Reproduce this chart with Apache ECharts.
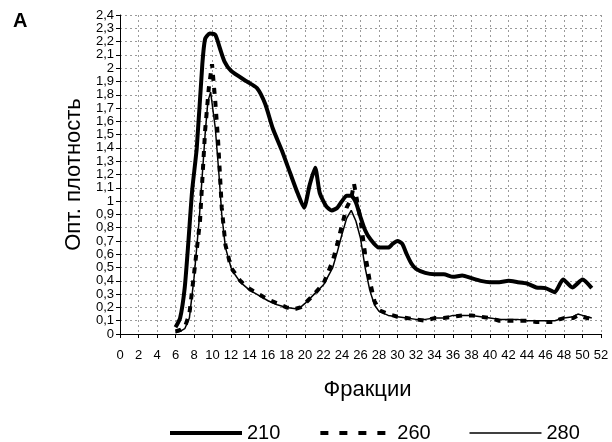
<!DOCTYPE html>
<html>
<head>
<meta charset="utf-8">
<script src="https://cdn.jsdelivr.net/npm/echarts@6/dist/echarts.min.js"></script>
<style>html,body{margin:0;padding:0;background:#fff}#c{width:612px;height:442px}</style>
</head>
<body>
<div id="c"></div>
<script>
var x210 = [6,6.5,7,7.4,7.8,8.3,8.9,9.2,9.7,10.3,10.8,11.3,12,13.7,14.8,15.7,16.5,17.5,18.4,19.2,19.9,20.5,21.1,21.6,22.3,22.9,23.5,24,24.5,25,25.5,26,26.5,27,28,29,29.5,30,30.5,31,31.5,32,33,34,35,36,37,38,39,40,41,42,43,44,45,46,47,47.9,48.9,50,51];
var y210 = [0.05,0.12,0.35,0.7,1.08,1.4,2.03,2.22,2.26,2.25,2.15,2.05,1.98,1.9,1.85,1.73,1.55,1.38,1.21,1.06,0.95,1.12,1.25,1.06,0.96,0.93,0.95,1.0,1.04,1.04,0.99,0.88,0.78,0.72,0.65,0.65,0.68,0.7,0.68,0.6,0.53,0.49,0.46,0.45,0.45,0.43,0.44,0.42,0.4,0.39,0.39,0.4,0.39,0.38,0.35,0.345,0.315,0.41,0.35,0.41,0.345];

var x260 = [6,6.5,7,7.5,8,8.65,9.2,9.6,9.95,10.3,10.6,11,11.4,12,12.5,13,14,15,16,17,18,19,19.5,20,21,22,23,23.5,24,24.5,25,25.3,26,26.5,27,27.5,28,29,30,31,32,33,34,35,36,37,38,39,40,41,42,43,44,45,46,47,47.5,48,49,49.5,50,51];
var y260 = [0.02,0.03,0.05,0.15,0.45,0.85,1.53,1.85,2.03,1.75,1.46,0.95,0.67,0.5,0.45,0.4,0.34,0.3,0.26,0.23,0.2,0.19,0.2,0.23,0.3,0.38,0.55,0.68,0.82,0.95,1.02,1.13,0.86,0.6,0.4,0.25,0.18,0.15,0.13,0.12,0.11,0.1,0.12,0.12,0.13,0.14,0.14,0.13,0.12,0.1,0.1,0.1,0.1,0.09,0.09,0.09,0.11,0.12,0.12,0.14,0.13,0.11];

var x280 = [6,6.5,7,7.5,8,8.55,9.2,9.5,9.8,10.3,10.7,11,11.4,12,12.5,13,14,15,16,17,18,19,19.5,20,21,22,23,23.5,24,24.5,25,25.5,26,26.5,27,27.5,28,29,30,31,32,33,34,35,36,37,38,39,40,41,42,43,44,45,46,47,48,49,49.5,50,51];
var y280 = [0.01,0.02,0.04,0.12,0.42,0.85,1.5,1.75,1.82,1.55,1.2,0.9,0.65,0.5,0.44,0.39,0.33,0.29,0.25,0.22,0.2,0.19,0.2,0.23,0.3,0.37,0.5,0.62,0.75,0.87,0.93,0.85,0.72,0.5,0.33,0.22,0.17,0.14,0.13,0.12,0.11,0.11,0.12,0.12,0.14,0.14,0.14,0.13,0.12,0.11,0.11,0.11,0.1,0.1,0.1,0.1,0.12,0.13,0.15,0.14,0.12];

var seriesNames = ['210','260','280'];
var panelLabel = 'A';
var xTitle = 'Фракции';
var yTitle = 'Опт. плотность';

function pairs(xs, ys){ return xs.map(function(x,i){ return [x, ys[i]]; }); }

var FONT = '"Liberation Sans", Arial, sans-serif';
var chart = echarts.init(document.getElementById('c'), null, {renderer:'canvas'});
chart.setOption({
  animation: false,
  backgroundColor: '#fff',
  textStyle: {fontFamily: FONT, color: '#000'},
  title: {text: panelLabel, left: 8, top: 6, textStyle: {fontFamily: FONT, fontSize: 20, fontWeight: 'bold', color: '#000'}},
  grid: {left: 120, right: 11, top: 15, bottom: 108, containLabel: false},
  legend: {
    top: 423, left: 168, itemWidth: 72, itemHeight: 16, itemGap: 38, padding: 0,
    itemStyle: {opacity: 0},
    textStyle: {fontFamily: FONT, fontSize: 20, color: '#000'},
    data: [
      {name: seriesNames[0], lineStyle: {width: 4, type: 'solid'}},
      {name: seriesNames[1], lineStyle: {type: [8,11], width: 4}},
      {name: seriesNames[2], lineStyle: {width: 1.5, type: 'solid'}}
    ]
  },
  xAxis: {
    type: 'value', min: 0, max: 52, interval: 2,
    name: xTitle, nameLocation: 'middle', nameGap: 45,
    nameTextStyle: {fontFamily: FONT, fontSize: 22, color: '#000', padding: [0,0,0,14]},
    axisLine: {lineStyle: {color: '#000', width: 1}},
    axisTick: {show: true, length: 4, lineStyle: {color: '#000'}},
    axisLabel: {fontFamily: FONT, fontSize: 13, color: '#000', margin: 15, showMaxLabel: true, showMinLabel: true},
    splitLine: {show: true, lineStyle: {type: [2,3], color: '#9a9a9a', width: 1}}
  },
  yAxis: {
    type: 'value', min: 0, max: 2.4, interval: 0.1,
    name: yTitle, nameLocation: 'middle', nameGap: 33,
    nameTextStyle: {fontFamily: FONT, fontSize: 22, color: '#000'},
    axisLine: {show: true, lineStyle: {color: '#000', width: 1}},
    axisTick: {show: true, length: 4, lineStyle: {color: '#000'}},
    axisLabel: {fontFamily: FONT, fontSize: 13, color: '#000', margin: 6,
      formatter: function(v){ var s = (Math.round(v*10)/10).toString(); return s.replace('.', ','); }},
    splitLine: {show: true, lineStyle: {type: [2,3], color: '#9a9a9a', width: 1}}
  },
  series: [
    {name: seriesNames[0], type: 'line', data: pairs(x210, y210), symbol: 'none', z: 2, smooth: 0.2,
     lineStyle: {color: '#000', width: 4}, itemStyle: {color: '#000'}},
    {name: seriesNames[1], type: 'line', data: pairs(x260, y260), symbol: 'none', z: 3,
     lineStyle: {color: '#000', width: 4, type: [6,7]}, itemStyle: {color: '#000'}},
    {name: seriesNames[2], type: 'line', data: pairs(x280, y280), symbol: 'none', z: 4,
     lineStyle: {color: '#000', width: 1.5}, itemStyle: {color: '#000'}}
  ]
});
</script>
</body>
</html>
